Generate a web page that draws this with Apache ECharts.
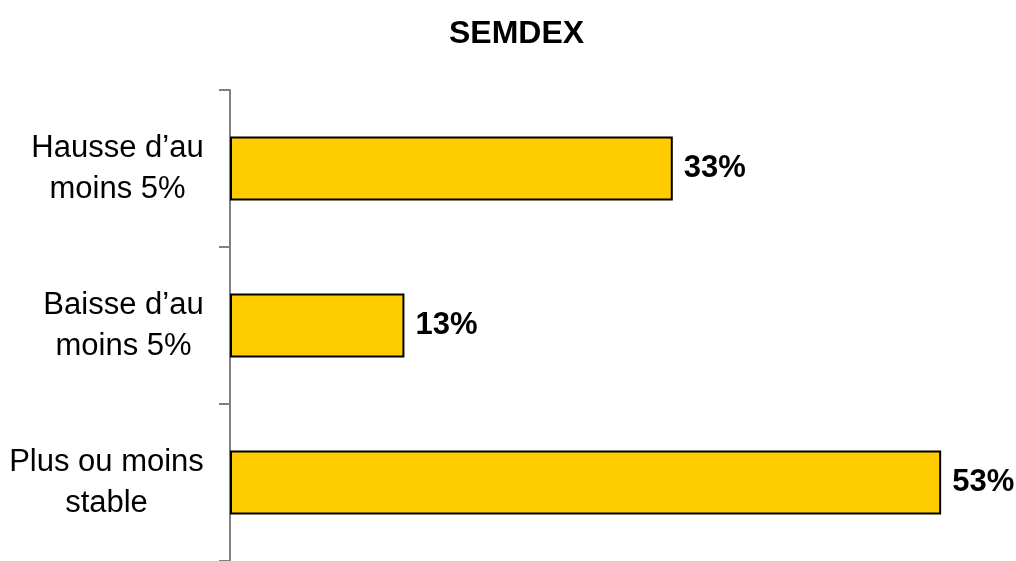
<!DOCTYPE html>
<html>
<head>
<meta charset="utf-8">
<script src="https://cdn.jsdelivr.net/npm/echarts@6/dist/echarts.min.js"></script>
<style>html,body{margin:0;padding:0;background:#fff}#c{width:1016px;height:561px}</style>
</head>
<body>
<div id="c"></div>
<script>
var categories = ["Hausse d\u2019au\nmoins 5%", "Baisse d\u2019au\nmoins 5%", "Plus ou moins\nstable"];
var values = [33, 13, 53];
var FONT = "'Liberation Sans', Arial, sans-serif";
var LABEL_SIZE = 31;

// measure each label block so its lines can be centred inside a right-aligned block
var ctx = document.createElement('canvas').getContext('2d');
ctx.font = LABEL_SIZE + 'px ' + FONT;
var rich = {};
categories.forEach(function (c, i) {
  var w = 0;
  c.split('\n').forEach(function (l) { w = Math.max(w, ctx.measureText(l).width); });
  rich['c' + i] = {width: Math.ceil(w), align: 'center', fontFamily: FONT, fontSize: LABEL_SIZE, color: '#000', lineHeight: 41};
});

var chart = echarts.init(document.getElementById('c'));
chart.setOption({
  animation: false,
  title: {
    text: 'SEMDEX', left: 444, top: 13,
    textStyle: {fontFamily: FONT, fontWeight: 'bold', fontSize: 32, color: '#000'}
  },
  grid: {left: 230, right: 48, top: 90, bottom: -7, containLabel: false},
  xAxis: {type: 'value', min: 0, max: 55, show: false},
  yAxis: {
    type: 'category', data: categories, inverse: true,
    axisLine: {lineStyle: {color: '#808080', width: 2}},
    axisTick: {show: true, length: 11, lineStyle: {color: '#808080', width: 2}},
    axisLabel: {
      fontFamily: FONT, fontSize: LABEL_SIZE, color: '#000',
      align: 'right', margin: 26, lineHeight: 41,
      formatter: function (v, i) {
        return v.split('\n').map(function (l) { return '{c' + i + '|' + l + '}'; }).join('\n');
      },
      rich: rich
    }
  },
  series: [{
    type: 'bar', data: values, barWidth: 64,
    itemStyle: {color: '#FFCC00', borderColor: '#000', borderWidth: 2},
    label: {
      show: true, position: 'right', distance: 11,
      formatter: '{c}%',
      fontFamily: FONT, fontWeight: 'bold', fontSize: 31, color: '#000'
    }
  }]
});
</script>
</body>
</html>
